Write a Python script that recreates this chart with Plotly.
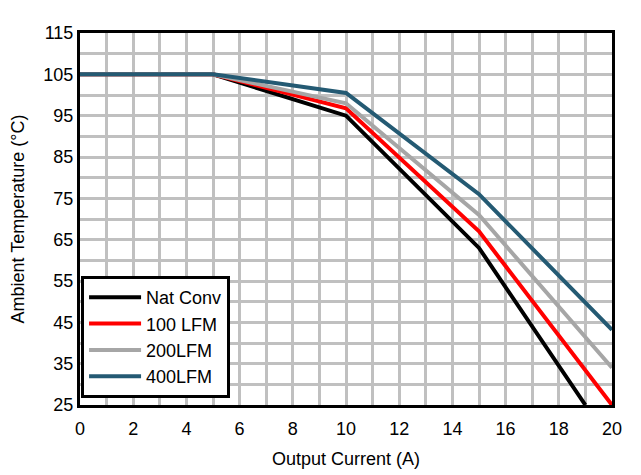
import plotly.graph_objects as go

current = [0, 5, 10, 15, 20]
nat_conv_x = [0, 5, 10, 15, 19]
nat_conv = [105, 105, 95, 63, 25]
lfm100 = [105, 105, 96.8, 67, 25]
lfm200 = [105, 105, 98, 71, 34]
lfm400 = [105, 105, 100.5, 76, 43.2]

fig = go.Figure()
fig.add_trace(go.Scatter(x=nat_conv_x, y=nat_conv, mode="lines", name="Nat Conv",
                         line=dict(color="#000000", width=4)))
fig.add_trace(go.Scatter(x=current, y=lfm100, mode="lines", name="100 LFM",
                         line=dict(color="#ff0000", width=4)))
fig.add_trace(go.Scatter(x=current, y=lfm200, mode="lines", name="200LFM",
                         line=dict(color="#a6a6a6", width=4)))
fig.add_trace(go.Scatter(x=current, y=lfm400, mode="lines", name="400LFM",
                         line=dict(color="#245a73", width=4)))

fam = "Liberation Sans, Arial, sans-serif"
font = dict(family=fam, size=18, color="black")

fig.update_layout(
    width=633, height=466,
    margin=dict(l=72, r=29, t=25, b=69, autoexpand=False),
    paper_bgcolor="white", plot_bgcolor="white",
    font=font,
    showlegend=True,
    legend=dict(x=0.002, y=0.019, xanchor="left", yanchor="bottom",
                bgcolor="white", bordercolor="black", borderwidth=3,
                font=dict(family=fam, size=18, color="black"),
                itemwidth=52, tracegroupgap=0),
    xaxis=dict(range=[0, 20], tick0=0, dtick=2, showgrid=True, gridcolor="#c0c0c0", gridwidth=3,
               minor=dict(dtick=1, showgrid=True, gridcolor="#c0c0c0", gridwidth=3),
               showline=True, linecolor="black", linewidth=3, mirror=True,
               ticks="", zeroline=False, automargin=False, ticklabelstandoff=5,
               title=dict(text="Output Current (A)", font=dict(family=fam, size=18))),
    yaxis=dict(range=[25, 115], tick0=25, dtick=10, showgrid=True, gridcolor="#c0c0c0", gridwidth=3,
               minor=dict(dtick=5, tick0=25, showgrid=True, gridcolor="#c0c0c0", gridwidth=3),
               showline=True, linecolor="black", linewidth=3, mirror=True,
               ticks="", zeroline=False, automargin=False,
               title=dict(text="Ambient Temperature (°C)", font=dict(family=fam, size=18))),
)

fig.write_html("out.html")
